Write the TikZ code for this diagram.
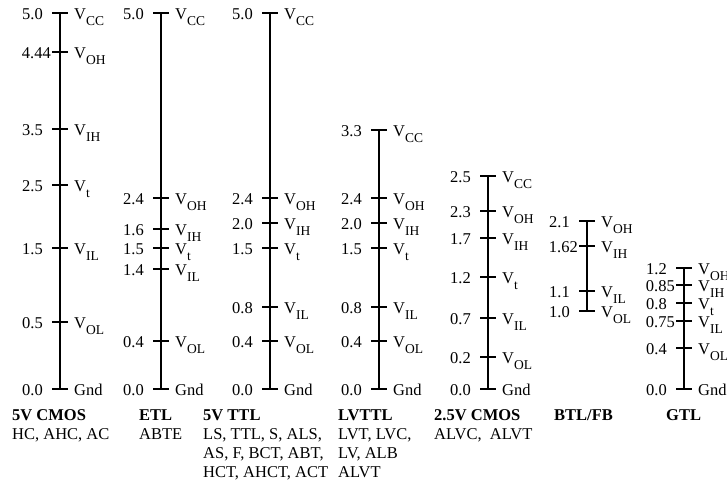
\documentclass[tikz,border=0pt]{standalone}
\usepackage{fontspec}
\setmainfont{Liberation Serif}
\usepackage{tikz}
\usetikzlibrary{positioning, calc}

% lowered subscript used in the level names
\newcommand{\vsub}[1]{\raisebox{-6pt}{\fontsize{13.5pt}{13.5pt}\selectfont #1}}

\begin{document}
\begin{tikzpicture}[
        x=1pt, y=-1pt,
        font={\fontsize{16.5pt}{19pt}\selectfont},
        axis/.style={line width=1.6pt},
        tick/.style={line width=1.6pt},
        value/.style={anchor=base east, inner sep=0pt},
        level/.style={anchor=base west, inner sep=0pt},
        family/.style={anchor=base west, inner sep=0pt, font={\fontsize{16.5pt}{19pt}\selectfont\bfseries}},
        members/.style={anchor=base west, inner sep=0pt, align=left}
    ]
        \useasboundingbox (0,0) rectangle (727,485);

        % 5V CMOS
        \def\cx{60}
        \coordinate (cmosTop) at (\cx,13);
        \coordinate (cmosBot) at (\cx,389);
        \draw [axis] (cmosTop) -- (cmosBot);
        \foreach \y/\v/\s/\g [count=\i] in {13/5.0/{V\vsub{CC}}/17, 52/4.44/{V\vsub{OH}}/9, 129/3.5/{V\vsub{IH}}/17, 185/2.5/{V\vsub{t}}/17, 248/1.5/{V\vsub{IL}}/17, 322/0.5/{V\vsub{OL}}/17, 389/0.0/Gnd/17} {
            \draw [tick] (\cx-8,\y) -- (\cx+8,\y);
            \node (cmosV\i) [value] at (\cx-\g,\y+6) {\v};
            \node (cmosL\i) [level] at (\cx+14,\y+6) {\s};
        }
        \node (cmosF) [family] at (12,420) {5V CMOS};
        \node (cmosM) [members] at (12,439) {HC, AHC, AC};

        % ETL
        \def\cx{161}
        \coordinate (etlTop) at (\cx,13);
        \coordinate (etlBot) at (\cx,389);
        \draw [axis] (etlTop) -- (etlBot);
        \foreach \y/\v/\s/\g [count=\i] in {13/5.0/{V\vsub{CC}}/17, 198/2.4/{V\vsub{OH}}/17, 229/1.6/{V\vsub{IH}}/17, 248/1.5/{V\vsub{t}}/17, 269/1.4/{V\vsub{IL}}/17, 341/0.4/{V\vsub{OL}}/17, 389/0.0/Gnd/17} {
            \draw [tick] (\cx-8,\y) -- (\cx+8,\y);
            \node (etlV\i) [value] at (\cx-\g,\y+6) {\v};
            \node (etlL\i) [level] at (\cx+14,\y+6) {\s};
        }
        \node (etlF) [family] at (139,420) {ETL};
        \node (etlM) [members] at (139,439) {ABTE};

        % 5V TTL
        \def\cx{270}
        \coordinate (ttlTop) at (\cx,13);
        \coordinate (ttlBot) at (\cx,389);
        \draw [axis] (ttlTop) -- (ttlBot);
        \foreach \y/\v/\s/\g [count=\i] in {13/5.0/{V\vsub{CC}}/17, 198/2.4/{V\vsub{OH}}/17, 223/2.0/{V\vsub{IH}}/17, 248/1.5/{V\vsub{t}}/17, 307/0.8/{V\vsub{IL}}/17, 341/0.4/{V\vsub{OL}}/17, 389/0.0/Gnd/17} {
            \draw [tick] (\cx-8,\y) -- (\cx+8,\y);
            \node (ttlV\i) [value] at (\cx-\g,\y+6) {\v};
            \node (ttlL\i) [level] at (\cx+14,\y+6) {\s};
        }
        \node (ttlF) [family] at (203,420) {5V TTL};
        \node (ttlM) [members] at (203,477) {LS, TTL, S, ALS,\\AS, F, BCT, ABT,\\HCT, AHCT, ACT};

        % LVTTL
        \def\cx{379}
        \coordinate (lvttlTop) at (\cx,130);
        \coordinate (lvttlBot) at (\cx,389);
        \draw [axis] (lvttlTop) -- (lvttlBot);
        \foreach \y/\v/\s/\g [count=\i] in {130/3.3/{V\vsub{CC}}/17, 198/2.4/{V\vsub{OH}}/17, 223/2.0/{V\vsub{IH}}/17, 248/1.5/{V\vsub{t}}/17, 307/0.8/{V\vsub{IL}}/17, 341/0.4/{V\vsub{OL}}/17, 389/0.0/Gnd/17} {
            \draw [tick] (\cx-8,\y) -- (\cx+8,\y);
            \node (lvttlV\i) [value] at (\cx-\g,\y+6) {\v};
            \node (lvttlL\i) [level] at (\cx+14,\y+6) {\s};
        }
        \node (lvttlF) [family] at (338,420) {LVTTL};
        \node (lvttlM) [members] at (338,477) {LVT, LVC,\\LV, ALB\\ALVT};

        % 2.5V CMOS
        \def\cx{488}
        \coordinate (lvcmosTop) at (\cx,176);
        \coordinate (lvcmosBot) at (\cx,389);
        \draw [axis] (lvcmosTop) -- (lvcmosBot);
        \foreach \y/\v/\s/\g [count=\i] in {176/2.5/{V\vsub{CC}}/17, 211/2.3/{V\vsub{OH}}/17, 238/1.7/{V\vsub{IH}}/17, 277/1.2/{V\vsub{t}}/17, 318/0.7/{V\vsub{IL}}/17, 357/0.2/{V\vsub{OL}}/17, 389/0.0/Gnd/17} {
            \draw [tick] (\cx-8,\y) -- (\cx+8,\y);
            \node (lvcmosV\i) [value] at (\cx-\g,\y+6) {\v};
            \node (lvcmosL\i) [level] at (\cx+14,\y+6) {\s};
        }
        \node (lvcmosF) [family] at (434,420) {2.5V CMOS};
        \node (lvcmosM) [members] at (434,439) {ALVC,\ \ ALVT};

        % BTL/FB
        \def\cx{587}
        \coordinate (btlTop) at (\cx,221);
        \coordinate (btlBot) at (\cx,311);
        \draw [axis] (btlTop) -- (btlBot);
        \foreach \y/\v/\s/\g [count=\i] in {221/2.1/{V\vsub{OH}}/17, 246/1.62/{V\vsub{IH}}/9, 291/1.1/{V\vsub{IL}}/17, 311/1.0/{V\vsub{OL}}/17} {
            \draw [tick] (\cx-8,\y) -- (\cx+8,\y);
            \node (btlV\i) [value] at (\cx-\g,\y+6) {\v};
            \node (btlL\i) [level] at (\cx+14,\y+6) {\s};
        }
        \node (btlF) [family] at (554,420) {BTL/FB};

        % GTL
        \def\cx{684}
        \coordinate (gtlTop) at (\cx,268);
        \coordinate (gtlBot) at (\cx,389);
        \draw [axis] (gtlTop) -- (gtlBot);
        \foreach \y/\v/\s/\g [count=\i] in {268/1.2/{V\vsub{OH}}/17, 285/0.85/{V\vsub{IH}}/9, 303/0.8/{V\vsub{t}}/17, 321/0.75/{V\vsub{IL}}/9, 348/0.4/{V\vsub{OL}}/17, 389/0.0/Gnd/17} {
            \draw [tick] (\cx-8,\y) -- (\cx+8,\y);
            \node (gtlV\i) [value] at (\cx-\g,\y+6) {\v};
            \node (gtlL\i) [level] at (\cx+14,\y+6) {\s};
        }
        \node (gtlF) [family] at (666,420) {GTL};
    \end{tikzpicture}
\end{document}
